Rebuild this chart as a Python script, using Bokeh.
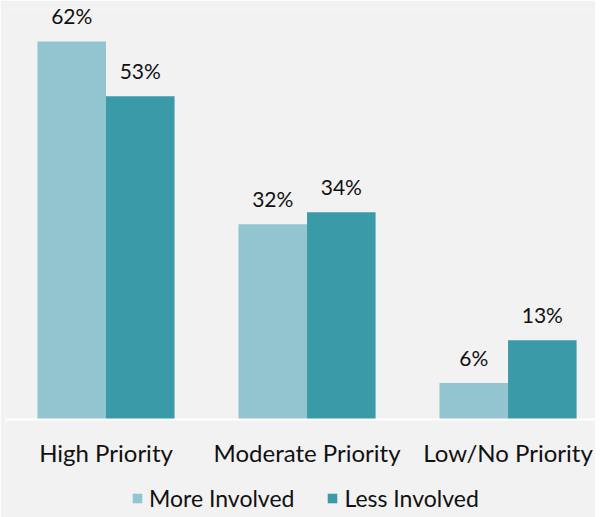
from bokeh.plotting import figure
from bokeh.models import ColumnDataSource, Range1d, Legend, LegendItem, Span
from bokeh.transform import dodge
from bokeh.core.properties import value
from bokeh.embed import file_html
from bokeh.resources import INLINE

categories = ["High Priority", "Moderate Priority", "Low/No Priority"]
more_involved = [62, 32, 6]
less_involved = [53, 34, 13]
series_names = ["More Involved", "Less Involved"]
colors = ["#92C5CF", "#3A9AA8"]

xs = list(range(len(categories)))
src = ColumnDataSource(dict(
    x=xs,
    zero=[0] * len(xs),
    cat=categories,
    more=more_involved,
    less=less_involved,
    more_lbl=[f"{v}%" for v in more_involved],
    less_lbl=[f"{v}%" for v in less_involved],
))

FONT = "Lato"
BG = "#F2F2F2"

p = figure(frame_width=590, frame_height=509,
           output_backend="svg", toolbar_location=None,
           x_range=Range1d(-0.5, 2.435), y_range=Range1d(-16.07, 67.4),
           x_axis_location=None, y_axis_location=None,
           min_border_left=5, min_border_right=0,
           min_border_top=8, min_border_bottom=0)
p.background_fill_color = BG
p.border_fill_color = BG
p.outline_line_color = None
p.grid.visible = False

bw = 0.341
off = bw / 2
r1 = p.vbar(x=dodge("x", -off), top="more", width=bw, source=src,
            fill_color=colors[0], line_color=None)
r2 = p.vbar(x=dodge("x", off), top="less", width=bw, source=src,
            fill_color=colors[1], line_color=None)

# baseline
p.add_layout(Span(location=0, dimension="width", line_color="#FFFFFF", line_width=2))

p.text(x=dodge("x", -off), y="more", text="more_lbl", source=src,
       text_align="center", text_baseline="bottom", y_offset=-13,
       text_font=value(FONT), text_font_size="21px", text_color="#111111")
p.text(x=dodge("x", off), y="less", text="less_lbl", source=src,
       text_align="center", text_baseline="bottom", y_offset=-13,
       text_font=value(FONT), text_font_size="21px", text_color="#111111")

# category labels
p.text(x="x", y="zero", text="cat", source=src,
       text_align="center", text_baseline="middle", y_offset=33,
       text_font=value(FONT), text_font_size="24px", text_color="#111111")

legend = Legend(items=[LegendItem(label=series_names[0], renderers=[r1]),
                       LegendItem(label=series_names[1], renderers=[r2])],
                orientation="horizontal", location=(126, 5),
                label_text_font=FONT, label_text_font_size="23px", label_text_color="#111111",
                glyph_width=12, glyph_height=12, label_standoff=6, spacing=32,
                padding=0, margin=0, background_fill_alpha=0, border_line_color=None)
p.add_layout(legend, "center")

open("out.html", "w").write(file_html(p, INLINE))
